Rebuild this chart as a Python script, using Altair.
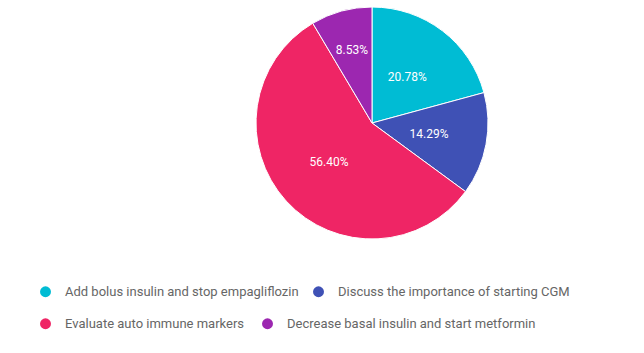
import altair as alt
import pandas as pd

categories = [
    "Add bolus insulin and stop empagliflozin",
    "Discuss the importance of starting CGM",
    "Evaluate auto immune markers",
    "Decrease basal insulin and start metformin",
]
values = [20.78, 14.29, 56.40, 8.53]
colors = ["#00BCD4", "#3F51B5", "#EF2565", "#9C27B0"]

df = pd.DataFrame({
    "category": categories,
    "value": values,
    "order": list(range(len(categories))),
    "label": [f"{v:.2f}%" for v in values],
})

CX, CY, R = 372, 123, 116

pie = alt.Chart(df).mark_arc(x=CX, y=CY, outerRadius=R, stroke="white", strokeWidth=1).encode(
    theta=alt.Theta("value:Q", stack=True),
    order=alt.Order("order:Q"),
    color=alt.Color(
        "category:N",
        scale=alt.Scale(domain=categories, range=colors),
        legend=None,
    ),
)

labels = (
    alt.Chart(df)
    .transform_window(cum="sum(value)", sort=[alt.SortField("order")], frame=[None, 0])
    .transform_joinaggregate(total="sum(value)")
    .transform_calculate(
        mid="(datum.cum - datum.value / 2) / datum.total * 2 * PI",
        r="datum.value < 10 ? 76 : 58",
    )
    .mark_text(x=CX, y=CY, color="white", font="Roboto", fontSize=12)
    .encode(
        text="label:N",
        theta=alt.Theta("mid:Q", scale=None, stack=None),
        radius=alt.Radius("r:Q", scale=None, stack=None),
    )
)


def legend_row(cats, cols, y, pad):
    return (
        alt.Chart(df)
        .transform_filter(alt.FieldOneOfPredicate(field="category", oneOf=cats))
        .mark_point(filled=True, opacity=0, x=CX, y=CY)
        .encode(
            color=alt.Color(
                "category:N",
                scale=alt.Scale(domain=cats, range=cols),
                legend=alt.Legend(
                    title=None,
                    orient="none",
                    direction="horizontal",
                    legendX=39,
                    legendY=y,
                    symbolType="circle",
                    symbolSize=120,
                    symbolStrokeWidth=0,
                    symbolOpacity=1,
                    labelFont="Roboto",
                    labelFontSize=13,
                    labelColor="#666666",
                    labelOffset=13,
                    columnPadding=pad,
                    labelLimit=400,
                ),
            )
        )
    )


leg1 = legend_row(categories[:2], colors[:2], 285, 13)
leg2 = legend_row(categories[2:], colors[2:], 317, 16)

chart = (
    alt.layer(pie, labels, leg1, leg2)
    .resolve_scale(color="independent")
    .properties(width=644, height=353, autosize=alt.AutoSizeParams(type="none"), padding=0)
    .configure_view(stroke=None)
)

chart.save("out.html", embed_options={"renderer": "svg", "actions": False})
